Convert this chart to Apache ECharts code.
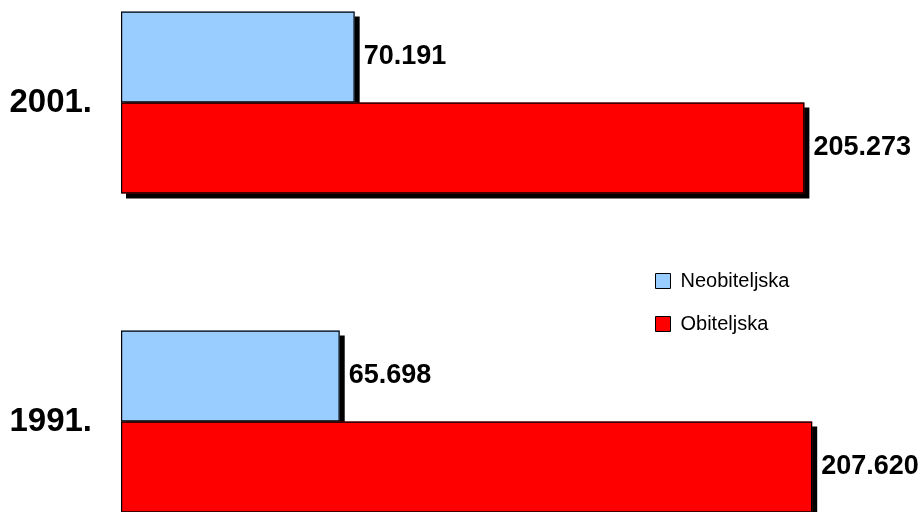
<!DOCTYPE html>
<html>
<head>
<meta charset="utf-8">
<script src="https://cdn.jsdelivr.net/npm/echarts@6/dist/echarts.min.js"></script>
<style>html,body{margin:0;padding:0;background:#fff}#c{width:924px;height:512px}</style>
</head>
<body>
<div id="c"></div>
<script>
const categories = ['1991.', '2001.'];
const seriesNames = ['Neobiteljska', 'Obiteljska'];
const neobiteljska = [65698, 70191];
const obiteljska = [207620, 205273];
const colors = ['#99CCFF', '#FF0000'];

function fmt(n) { return String(n).replace(/\B(?=(\d{3})+(?!\d))/g, '.'); }
const FONT = '"Liberation Sans", Arial, sans-serif';

const chart = echarts.init(document.getElementById('c'), null, {renderer: 'canvas'});
const labelCfg = {
  show: true, position: 'right', distance: 9,
  formatter: p => fmt(p.value),
  color: '#000', fontWeight: 'bold', fontSize: 27, fontFamily: FONT
};
const shadowStyle = { borderWidth: 0, shadowColor: '#000', shadowBlur: 0, shadowOffsetX: 5, shadowOffsetY: 5 };
const outlineStyle = { color: 'rgba(0,0,0,0)', borderColor: '#000', borderWidth: 1.2 };
const values = [neobiteljska, obiteljska];

const series = [];
values.forEach((d, i) => series.push({
  name: seriesNames[i], type: 'bar', data: d, z: 2 + i,
  xAxisIndex: 0, yAxisIndex: 0, barWidth: 91, barGap: '0%',
  itemStyle: Object.assign({ color: colors[i] }, shadowStyle),
  label: labelCfg, silent: true
}));
values.forEach((d, i) => series.push({
  name: seriesNames[i] + ' ', type: 'bar', data: d, z: 5,
  xAxisIndex: 1, yAxisIndex: 1, barWidth: 91, barGap: '0%',
  itemStyle: outlineStyle, silent: true
}));

chart.setOption({
  animation: false,
  backgroundColor: '#fff',
  grid: { left: 121, right: 4, top: -57, bottom: -69, outerBoundsMode: 'none', containLabel: false },
  xAxis: [
    { type: 'value', min: 0, max: 240000, show: false },
    { type: 'value', min: 0, max: 240000, show: false }
  ],
  yAxis: [
    {
      type: 'category', data: categories,
      axisLine: { show: false }, axisTick: { show: false }, splitLine: { show: false },
      axisLabel: { margin: 29, color: '#000', fontWeight: 'bold', fontSize: 33, fontFamily: FONT, padding: [4, 0, 0, 0] }
    },
    { type: 'category', data: categories, show: false }
  ],
  legend: {
    orient: 'vertical', left: 650, top: 266,
    data: seriesNames.map((n, i) => ({ name: n, itemStyle: { color: colors[i] } })),
    icon: 'rect', itemWidth: 15, itemHeight: 15, itemGap: 23,
    textStyle: { fontSize: 20, lineHeight: 20, color: '#000', fontFamily: FONT, padding: [0, 0, 0, 5] },
    itemStyle: { borderColor: '#000', borderWidth: 1, shadowBlur: 0, shadowOffsetX: 0, shadowOffsetY: 0, shadowColor: 'rgba(0,0,0,0)' }
  },
  series: series
});
</script>
</body>
</html>
